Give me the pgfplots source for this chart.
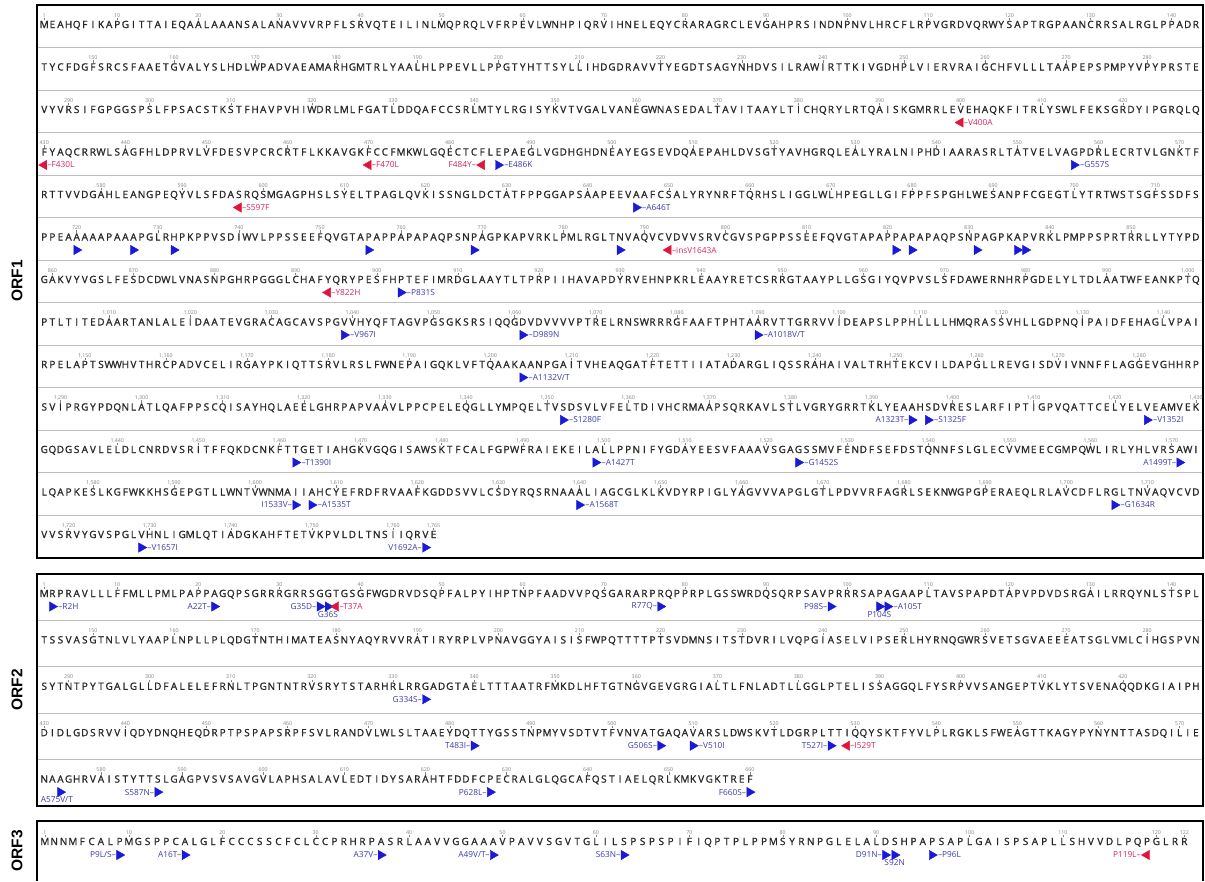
\documentclass[border=0pt]{standalone}
\usepackage{fontspec}
\setmainfont{Open Sans}
\newfontfamily\orffont{Liberation Sans}
\newfontfamily\seqff[FakeBold=1.3]{Open Sans}
\usepackage{pgfplots}
\pgfplotsset{compat=1.18}

\definecolor{mblue}{RGB}{25,25,215}
\definecolor{mred}{RGB}{225,20,60}
\definecolor{lblue}{RGB}{60,60,175}
\definecolor{lred}{RGB}{210,40,90}
\definecolor{seqcol}{RGB}{40,40,40}
\definecolor{tickgray}{RGB}{130,130,130}
\definecolor{sepgray}{RGB}{190,190,190}

\newcommand\lblfont{\fontsize{8.3}{9}\selectfont}
\newcommand\seqfont{\seqff\fontsize{10}{12}\selectfont\color{seqcol}}

\ExplSyntaxOn
\int_new:N \l_sq_n_int
\dim_new:N \l_sq_w_dim
\cs_new:Npn \sq_fmt:n #1
  {
    \int_compare:nNnTF {#1} < {1000}
      { \int_eval:n {#1} }
      {
        \int_eval:n { \int_div_truncate:nn {#1} {1000} } ,
        \int_compare:nNnT { \int_mod:nn {#1} {1000} } < {100} {0}
        \int_compare:nNnT { \int_mod:nn {#1} {1000} } < {10} {0}
        \int_eval:n { \int_mod:nn {#1} {1000} }
      }
  }
\cs_new_protected:Npn \sq_tick:n #1
  {
    \rlap{\hbox_to_wd:nn {\l_sq_w_dim} { \hss \raisebox{8pt}[0pt][0pt]{\color{tickgray}\rule{0.4pt}{2.2pt}} \hss }}
    \rlap{\hbox_to_wd:nn {\l_sq_w_dim} { \hss \raisebox{11pt}[0pt][0pt]{\color{tickgray}\normalfont\fontsize{5.3}{5.5}\selectfont #1} \hss }}
  }
\NewDocumentCommand \seqrow { m m m o }
  {
    \dim_set:Nn \l_sq_w_dim {#1}
    \int_set:Nn \l_sq_n_int {#2}
    \tl_map_inline:nn {#3}
      {
        \bool_if:nT { \int_compare_p:nNn { \int_mod:nn {\l_sq_n_int} {10} } = {0} || \int_compare_p:nNn {\l_sq_n_int} = {1} }
          { \sq_tick:n { \sq_fmt:n {\l_sq_n_int} } }
        \hbox_to_wd:nn {\l_sq_w_dim} { \hss ##1 \hss }
        \int_incr:N \l_sq_n_int
      }
    \IfValueT {#4} { \kern -\l_sq_w_dim \sq_tick:n {#4} \kern \l_sq_w_dim }
  }
\ExplSyntaxOff

% residue -> position (ORF1/ORF2: 143 residues per row, 8.11 per residue)
\newcommand\xa{40+(mod(\thisrow{pos}-1,143)+0.5)*8.11}
\newcommand\ya{37.5+floor((\thisrow{pos}-1)/143)*42.5}
\newcommand\yb{606.5+floor((\thisrow{pos}-1)/143)*46.4}
\newcommand\xc{40+(\thisrow{pos}-0.5)*9.34}

\pgfplotsset{
  mkR/.style={only marks, mark=triangle*, mark size=5.4pt, mark options={rotate=-90, draw=mblue, fill=mblue}},
  mkL/.style={only marks, mark=triangle*, mark size=5.4pt, mark options={rotate=90, draw=mred, fill=mred}},
  labright/.style 2 args={point meta=explicit symbolic, nodes near coords={\textendash\pgfplotspointmeta},
     every node near coord/.append style={anchor=west, xshift=#1, text=#2, font=\lblfont, inner sep=0.3pt}},
  lableft/.style 2 args={point meta=explicit symbolic, nodes near coords={\pgfplotspointmeta\textendash},
     every node near coord/.append style={anchor=east, xshift=#1, text=#2, font=\lblfont, inner sep=0.3pt}},
  labbelow/.style={point meta=explicit symbolic, nodes near coords={\pgfplotspointmeta},
     every node near coord/.append style={anchor=north, yshift=-4pt, text=lblue, font=\lblfont, inner sep=0.3pt}},
}

\begin{document}
\begin{tikzpicture}
\begin{axis}[
  width=1205pt, height=881pt, scale only axis,
  xmin=0, xmax=1205, ymin=0, ymax=881, y dir=reverse,
  enlargelimits=false, hide axis, clip=false,
]
\path (axis cs:0,0) rectangle (axis cs:1205,881);

% ---------- frames and separators ----------
\draw[line width=1.8pt] (axis cs:37,5) rectangle (axis cs:1203,558);
\draw[line width=1.8pt] (axis cs:37,574) rectangle (axis cs:1203,806);
\draw[line width=1.8pt] (axis cs:37,881) -- (axis cs:37,821) -- (axis cs:1203,821) -- (axis cs:1203,881);
\pgfplotsinvokeforeach{1,...,12}{\draw[sepgray, line width=1pt] (axis cs:38,{5+42.5*#1}) -- (axis cs:1202,{5+42.5*#1});}
\pgfplotsinvokeforeach{1,...,4}{\draw[sepgray, line width=1pt] (axis cs:38,{574+46.4*#1}) -- (axis cs:1202,{574+46.4*#1});}

% ---------- panel titles ----------
\node[rotate=90, font=\orffont\bfseries\fontsize{15.5}{16}\selectfont] at (axis cs:17,281) {ORF1};
\node[rotate=90, font=\orffont\bfseries\fontsize{15.5}{16}\selectfont] at (axis cs:17,690) {ORF2};
\node[rotate=90, font=\orffont\bfseries\fontsize{15.5}{16}\selectfont] at (axis cs:17,851) {ORF3};

% ---------- ORF1 sequence ----------
\begin{scope}[every node/.style={anchor=base west, inner sep=0pt, font=\seqfont}]
\node at (axis cs:40,28) {\seqrow{8.11pt}{1}{MEAHQFIKAPGITTAIEQAALAAANSALANAVVVRPFLSRVQTEILINLMQPRQLVFRPEVLWNHPIQRVIHNELEQYCRARAGRCLEVGAHPRSINDNPNVLHRCFLRPVGRDVQRWYSAPTRGPAANCRRSALRGLPPADR}};
\node at (axis cs:40,70.5) {\seqrow{8.11pt}{144}{TYCFDGFSRCSFAAETGVALYSLHDLWPADVAEAMARHGMTRLYAALHLPPEVLLPPGTYHTTSYLLIHDGDRAVVTYEGDTSAGYNHDVSILRAWIRTTKIVGDHPLVIERVRAIGCHFVLLLTAAPEPSPMPYVPYPRSTE}};
\node at (axis cs:40,113) {\seqrow{8.11pt}{287}{VYVRSIFGPGGSPSLFPSACSTKSTFHAVPVHIWDRLMLFGATLDDQAFCCSRLMTYLRGISYKVTVGALVANEGWNASEDALTAVITAAYLTICHQRYLRTQAISKGMRRLEVEHAQKFITRLYSWLFEKSGRDYIPGRQLQ}};
\node at (axis cs:40,155.5) {\seqrow{8.11pt}{430}{FYAQCRRWLSAGFHLDPRVLVFDESVPCRCRTFLKKAVGKFCCFMKWLGQECTCFLEPAEGLVGDHGHDNEAYEGSEVDQAEPAHLDVSGTYAVHGRQLEALYRALNIPHDIAARASRLTATVELVAGPDRLECRTVLGNKTF}};
\node at (axis cs:40,198) {\seqrow{8.11pt}{573}{RTTVVDGAHLEANGPEQYVLSFDASRQSMGAGPHSLSYELTPAGLQVKISSNGLDCTATFPPGGAPSAAPEEVAAFCSALYRYNRFTQRHSLIGGLWLHPEGLLGIFPPFSPGHLWESANPFCGEGTLYTRTWSTSGFSSDFS}};
\node at (axis cs:40,240.5) {\seqrow{8.11pt}{716}{PPEAAAAAPAAAPGLRHPKPPVSDIWVLPPSSEEFQVGTAPAPPAPAPAQPSNPAGPKAPVRKLPMLRGLTNVAQVCVDVVSRVCGVSPGPPSSEEFQVGTAPAPPAPAPAQPSNPAGPKAPVRKLPMPPSPRTRRLLYTYPD}};
\node at (axis cs:40,283) {\seqrow{8.11pt}{859}{GAKVYVGSLFESDCDWLVNASNPGHRPGGGLCHAFYQRYPESFHPTEFIMRDGLAAYTLTPRPIIHAVAPDYRVEHNPKRLEAAYRETCSRRGTAAYPLLGSGIYQVPVSLSFDAWERNHRPGDELYLTDLAATWFEANKPTQ}};
\node at (axis cs:40,325.5) {\seqrow{8.11pt}{1002}{PTLTITEDAARTANLALEIDAATEVGRACAGCAVSPGVVHYQFTAGVPGSGKSRSIQQGDVDVVVVPTRELRNSWRRRGFAAFTPHTAARVTTGRRVVIDEAPSLPPHLLLLHMQRASSVHLLGDPNQIPAIDFEHAGLVPAI}};
\node at (axis cs:40,368) {\seqrow{8.11pt}{1145}{RPELAPTSWWHVTHRCPADVCELIRGAYPKIQTTSRVLRSLFWNEPAIGQKLVFTQAAKAANPGAITVHEAQGATFTETTIIATADARGLIQSSRAHAIVALTRHTEKCVILDAPGLLREVGISDVIVNNFFLAGGEVGHHRP}};
\node at (axis cs:40,410.5) {\seqrow{8.11pt}{1288}{SVIPRGYPDQNLATLQAFPPSCQISAYHQLAEELGHRPAPVAAVLPPCPELEQGLLYMPQELTVSDSVLVFELTDIVHCRMAAPSQRKAVLSTLVGRYGRRTKLYEAAHSDVRESLARFIPTIGPVQATTCELYELVEAMVEK}};
\node at (axis cs:40,453) {\seqrow{8.11pt}{1431}{GQDGSAVLELDLCNRDVSRITFFQKDCNKFTTGETIAHGKVGQGISAWSKTFCALFGPWFRAIEKEILALLPPNIFYGDAYEESVFAAAVSGAGSSMVFENDFSEFDSTQNNFSLGLECVVMEECGMPQWLIRLYHLVRSAWI}};
\node at (axis cs:40,495.5) {\seqrow{8.11pt}{1574}{LQAPKESLKGFWKKHSGEPGTLLWNTVWNMAIIAHCYEFRDFRVAAFKGDDSVVLCSDYRQSRNAAALIAGCGLKLKVDYRPIGLYAGVVVAPGLGTLPDVVRFAGRLSEKNWGPGPERAEQLRLAVCDFLRGLTNVAQVCVD}};
\node at (axis cs:40,538) {\seqrow{8.11pt}{1717}{VVSRVYGVSPGLVHNLIGMLQTIADGKAHFTETVKPVLDLTNSIIQRVE}[1,765]};
% ---------- ORF2 sequence ----------
\node at (axis cs:40,597) {\seqrow{8.11pt}{1}{MRPRAVLLLFFMLLPMLPAPPAGQPSGRRRGRRSGGTGSGFWGDRVDSQPFALPYIHPTNPFAADVVPQSGARARPRQPPRPLGSSWRDQSQRPSAVPRRRSAPAGAAPLTAVSPAPDTAPVPDVDSRGAILRRQYNLSTSPL}};
\node at (axis cs:40,643.4) {\seqrow{8.11pt}{144}{TSSVASGTNLVLYAAPLNPLLPLQDGTNTHIMATEASNYAQYRVVRATIRYRPLVPNAVGGYAISISFWPQTTTTPTSVDMNSITSTDVRILVQPGIASELVIPSERLHYRNQGWRSVETSGVAEEEATSGLVMLCIHGSPVN}};
\node at (axis cs:40,689.8) {\seqrow{8.11pt}{287}{SYTNTPYTGALGLLDFALELEFRNLTPGNTNTRVSRYTSTARHRLRRGADGTAELTTTAATRFMKDLHFTGTNGVGEVGRGIALTLFNLADTLLGGLPTELISSAGGQLFYSRPVVSANGEPTVKLYTSVENAQQDKGIAIPH}};
\node at (axis cs:40,736.2) {\seqrow{8.11pt}{430}{DIDLGDSRVVIQDYDNQHEQDRPTPSPAPSRPFSVLRANDVLWLSLTAAEYDQTTYGSSTNPMYVSDTVTFVNVATGAQAVARSLDWSKVTLDGRPLTTIQQYSKTFYVLPLRGKLSFWEAGTTKAGYPYNYNTTASDQILIE}};
\node at (axis cs:40,782.6) {\seqrow{8.11pt}{573}{NAAGHRVAISTYTTSLGAGPVSVSAVGVLAPHSALAVLEDTIDYSARAHTFDDFCPECRALGLQGCAFQSTIAELQRLKMKVGKTREF}};
% ---------- ORF3 sequence ----------
\node at (axis cs:40,845) {\seqrow{9.34pt}{1}{MNNMFCALPMGSPPCALGLFCCCSSCFCLCCPRHRPASRLAAVVGGAAAVPAVVSGVTGLILSPSPSPIFIQPTPLPPMSYRNPGLELALDSHPAPSAPLGAISPSAPLLSHVVDLPQPGLRR}[122]};
\end{scope}

% ---------- ORF1 mutations ----------
\addplot[mkR, labright={5.6pt}{lblue}] table[x expr=\xa, y expr=\ya, meta=lab] {
pos lab
486 E486K
557 G557S
646 A646T
903 P831S
1039 V967I
1061 D989N
1090 A1018V/T
1204 A1132V/T
1352 S1280F
1397 S1325F
1424 V1352I
1462 T1390I
1499 A1427T
1524 G1452S
1607 A1535T
1640 A1568T
1706 G1634R
1729 V1657I
};
\addplot[mkR, lableft={-3pt}{lblue}] table[x expr=\xa, y expr=\ya, meta=lab] {
pos lab
1395 A1323T
1571 A1499T
1605 I1533V
1764 V1692A
};
\addplot[mkR] table[x expr=\xa, y expr=\ya] {
pos
720
727
732
756
769
787
821
823
831
836
837
};
\addplot[mkL, labright={3pt}{lred}] table[x expr=\xa, y expr=\ya, meta=lab] {
pos lab
400 V400A
430 F430L
470 F470L
597 S597F
793 insV1643A
894 Y822H
};
\addplot[mkL, lableft={-5.6pt}{lred}] table[x expr=\xa, y expr=\ya, meta=lab] {
pos lab
484 F484Y
};

% ---------- ORF2 mutations ----------
\addplot[mkR, labright={5.6pt}{lblue}] table[x expr=\xa, y expr=\yb, meta=lab] {
pos lab
2 R2H
105 A105T
510 V510I
};
\addplot[mkR, lableft={-3pt}{lblue}] table[x expr=\xa, y expr=\yb, meta=lab] {
pos lab
22 A22T
35 G35D
77 R77Q
98 P98S
334 G334S
483 T483I
506 G506S
527 T527I
587 S587N
628 P628L
660 F660S
};
\addplot[mkR, labbelow] table[x expr=\xa, y expr=\yb, meta=lab] {
pos lab
36 G36S
104 P104S
};
\addplot[mkR, labbelow, every node near coord/.append style={anchor=north west, xshift=-20pt}] table[x expr=\xa, y expr=\yb, meta=lab] {
pos lab
575 A575V/T
};
\addplot[mkL, labright={3pt}{lred}] table[x expr=\xa, y expr=\yb, meta=lab] {
pos lab
37 T37A
529 I529T
};

% ---------- ORF3 mutations ----------
\addplot[mkR, lableft={-3pt}{lblue}] table[x expr=\xc, y expr=855, meta=lab] {
pos lab
9 P9L/S
16 A16T
37 A37V
49 A49V/T
63 S63N
91 D91N
};
\addplot[mkR, labbelow] table[x expr=\xc, y expr=855, meta=lab] {
pos lab
92 S92N
};
\addplot[mkR, labright={5.6pt}{lblue}] table[x expr=\xc, y expr=855, meta=lab] {
pos lab
96 P96L
};
\addplot[mkL, lableft={-5.6pt}{lred}] table[x expr=\xc, y expr=855, meta=lab] {
pos lab
119 P119L
};
\end{axis}
\end{tikzpicture}
\end{document}
